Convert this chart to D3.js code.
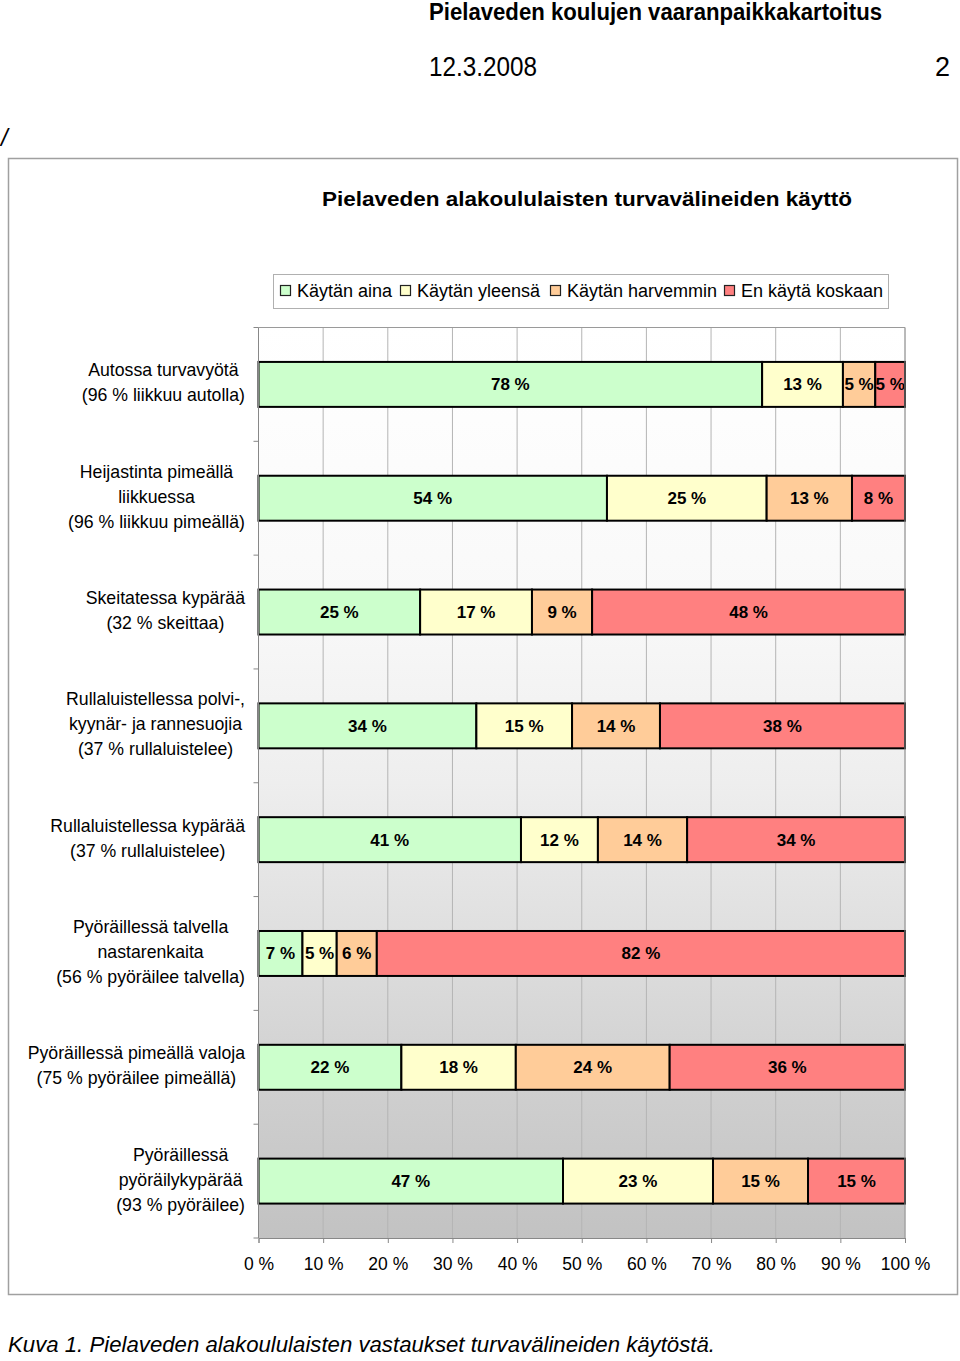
<!DOCTYPE html>
<html><head><meta charset="utf-8">
<script src="https://cdn.jsdelivr.net/npm/d3@7"></script>
<style>
html,body{margin:0;padding:0;background:#fff;}
svg{display:block;font-family:"Liberation Sans",Arial,sans-serif;}
</style></head>
<body>
<svg id="c" width="960" height="1361"></svg>
<script>
// ---- data ----
const categories = [
  ["Autossa turvavyötä","(96 % liikkuu autolla)"],
  ["Heijastinta pimeällä","liikkuessa","(96 % liikkuu pimeällä)"],
  ["Skeitatessa kypärää","(32 % skeittaa)"],
  ["Rullaluistellessa polvi-,","kyynär- ja rannesuojia","(37 % rullaluistelee)"],
  ["Rullaluistellessa kypärää","(37 % rullaluistelee)"],
  ["Pyöräillessä talvella","nastarenkaita","(56 % pyöräilee talvella)"],
  ["Pyöräillessä pimeällä valoja","(75 % pyöräilee pimeällä)"],
  ["Pyöräillessä","pyöräilykypärää","(93 % pyöräilee)"]
];
const seriesNames = ["Käytän aina","Käytän yleensä","Käytän harvemmin","En käytä koskaan"];
const seriesColors = ["#ccffcc","#ffffcc","#ffcc99","#ff8080"];
const kaytanAina      = [77.9, 53.9, 25.0, 33.7, 40.6,  6.8, 22.1, 47.1];
const kaytanYleensa   = [12.5, 24.7, 17.3, 14.8, 11.9,  5.3, 17.7, 23.2];
const kaytanHarvemmin = [ 5.0, 13.2,  9.3, 13.6, 13.8,  6.2, 23.8, 14.7];
const enKayta         = [ 4.6,  8.2, 48.4, 37.9, 33.7, 81.7, 36.4, 15.0];
const tickValues = [0,10,20,30,40,50,60,70,80,90,100];
const tickLabels = ["0 %","10 %","20 %","30 %","40 %","50 %","60 %","70 %","80 %","90 %","100 %"];

(function(){
const svg = d3.select("#c");

// page header
svg.append("text").attr("x",429).attr("y",20).attr("font-size",23).attr("font-weight","bold")
  .attr("textLength",453).attr("lengthAdjust","spacingAndGlyphs")
  .text("Pielaveden koulujen vaaranpaikkakartoitus");
svg.append("text").attr("x",429).attr("y",76).attr("font-size",27)
  .attr("textLength",108).attr("lengthAdjust","spacingAndGlyphs").text("12.3.2008");
svg.append("text").attr("x",950).attr("y",76).attr("font-size",27).attr("text-anchor","end").text("2");
svg.append("text").attr("x",1).attr("y",146).attr("font-size",24).attr("font-style","italic").text("/");

// chart frame
svg.append("rect").attr("x",8.5).attr("y",158.5).attr("width",949).attr("height",1136)
  .attr("fill","#fff").attr("stroke","#a0a0a0").attr("stroke-width",1.5);

svg.append("text").attr("x",587).attr("y",206).attr("text-anchor","middle")
  .attr("font-size",20).attr("font-weight","bold")
  .attr("textLength",530).attr("lengthAdjust","spacingAndGlyphs")
  .text("Pielaveden alakoululaisten turvavälineiden käyttö");

// legend
const lg = svg.append("g");
lg.append("rect").attr("x",273.5).attr("y",274.5).attr("width",615).attr("height",34)
  .attr("fill","#fff").attr("stroke","#b0b0b0");
const legX = [280, 400, 550, 724];
seriesNames.forEach((n,i)=>{
  lg.append("rect").attr("x",legX[i]+0.5).attr("y",285.5).attr("width",10).attr("height",10)
    .attr("fill",seriesColors[i]).attr("stroke","#222").attr("stroke-width",1.2);
  lg.append("text").attr("x",legX[i]+17).attr("y",297).attr("font-size",18).text(n);
});

// plot
const pLeft = 258.5, pRight = 905, pTop = 327.5, pBottom = 1238;
const x = d3.scaleLinear().domain([0,100]).range([pLeft,pRight]);
const y = d3.scaleBand().domain(d3.range(categories.length)).range([pTop,pBottom]).padding(0);
const bw = y.bandwidth();
const barH = bw*0.395;

const defs = svg.append("defs");
const grad = defs.append("linearGradient").attr("id","bg").attr("x1",0).attr("y1",0).attr("x2",0).attr("y2",1);
[[0,"#ffffff"],[0.3,"#f9f9f9"],[0.5,"#eeeeee"],[0.7,"#dcdcdc"],[0.85,"#cecece"],[1,"#c2c2c2"]]
  .forEach(s=>grad.append("stop").attr("offset",s[0]).attr("stop-color",s[1]));
svg.append("rect").attr("x",pLeft).attr("y",pTop).attr("width",pRight-pLeft).attr("height",pBottom-pTop).attr("fill","url(#bg)");

// gridlines
svg.append("g").selectAll("line").data(tickValues.slice(1)).join("line")
  .attr("x1",d=>x(d)).attr("x2",d=>x(d)).attr("y1",pTop).attr("y2",pBottom)
  .attr("stroke","#b4b4b4").attr("stroke-width",1);
svg.append("line").attr("x1",pLeft).attr("x2",pRight).attr("y1",pTop).attr("y2",pTop).attr("stroke","#9a9a9a");

// bars
const series = [kaytanAina,kaytanYleensa,kaytanHarvemmin,enKayta];
const rows = categories.map((c,i)=>series.map(s=>s[i]));
const gb = svg.append("g");
rows.forEach((vals,i)=>{
  const total = d3.sum(vals);
  let cum = 0;
  const y0 = y(i) + (bw-barH)/2;
  vals.forEach((v,j)=>{
    const a = cum/total*100, b = (cum+v)/total*100;
    cum += v;
    gb.append("rect").attr("x",x(a)).attr("y",y0).attr("width",x(b)-x(a)).attr("height",barH)
      .attr("fill",seriesColors[j]).attr("stroke","#000").attr("stroke-width",2);
  });
  cum = 0;
  vals.forEach((v,j)=>{
    const a = cum/total*100, b = (cum+v)/total*100;
    cum += v;
    gb.append("text").attr("x",(x(a)+x(b))/2).attr("y",y0+barH/2+6)
      .attr("text-anchor","middle").attr("font-size",17).attr("font-weight","bold")
      .text(Math.round(v)+" %");
  });
});

// axes
const xAxis = d3.axisBottom(x).tickValues(tickValues).tickFormat((d,i)=>tickLabels[i]).tickSizeOuter(0).tickSize(5);
const gx = svg.append("g").attr("transform",`translate(0,${pBottom})`).call(xAxis);
gx.select(".domain").attr("stroke","#888");
gx.selectAll(".tick line").attr("stroke","#888");
gx.selectAll(".tick text").attr("font-size",17.5).attr("font-family","Liberation Sans, Arial, sans-serif").attr("fill","#000").attr("y",14).attr("dy","1.05em");
svg.append("line").attr("x1",pRight).attr("x2",pRight).attr("y1",pTop).attr("y2",pBottom).attr("stroke","#9a9a9a");

// left axis with ticks at band boundaries
const gl = svg.append("g");
gl.append("line").attr("x1",pLeft).attr("x2",pLeft).attr("y1",pTop).attr("y2",pBottom).attr("stroke","#888");
gl.selectAll("line.t").data(d3.range(categories.length+1)).join("line").attr("class","t")
  .attr("x1",pLeft-5).attr("x2",pLeft).attr("y1",d=>pTop+d*bw).attr("y2",d=>pTop+d*bw).attr("stroke","#888");

// category labels: centered lines in a block right-aligned to the axis
const labelRight = 245;
categories.forEach((lines,i)=>{
  const g = svg.append("g");
  const texts = lines.map((l,k)=>g.append("text").attr("font-size",17.7).attr("text-anchor","middle")
    .attr("y", y(i)+bw/2 + (k-(lines.length-1)/2)*25 + 4.5).text(l));
  const w = d3.max(texts, t=>t.node().getComputedTextLength());
  texts.forEach(t=>t.attr("x",labelRight - w/2));
});

// caption
svg.append("text").attr("x",8).attr("y",1352).attr("font-size",22).attr("font-style","italic")
  .attr("textLength",707).attr("lengthAdjust","spacingAndGlyphs")
  .text("Kuva 1. Pielaveden alakoululaisten vastaukset turvavälineiden käytöstä.");
})();
</script>
</body></html>
